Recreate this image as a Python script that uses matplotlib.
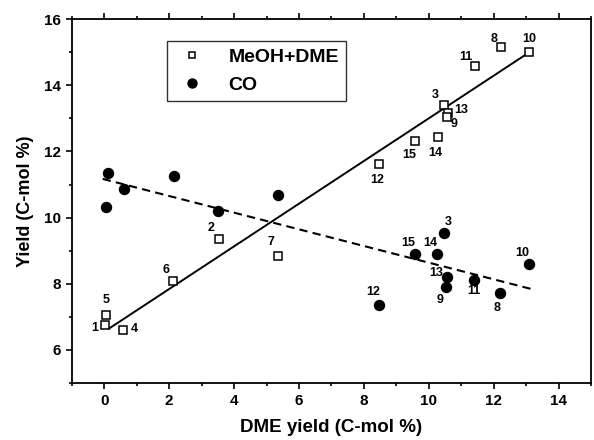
import matplotlib
matplotlib.use('Agg')
import matplotlib.pyplot as plt
from matplotlib.ticker import MultipleLocator

plt.rcParams['font.family'] = ['Liberation Sans', 'DejaVu Sans']
plt.rcParams['font.weight'] = 'bold'

# MeOH+DME yield vs DME yield (open squares)
meoh_ids = ['1', '5', '4', '6', '2', '7', '12', '15', '14', '3', '13', '9', '11', '8', '10']
meoh_x = [0.03, 0.05, 0.57, 2.13, 3.54, 5.35, 8.47, 9.56, 10.28, 10.48, 10.58, 10.55, 11.43, 12.22, 13.10]
meoh_y = [6.76, 7.07, 6.60, 8.09, 9.35, 8.83, 11.63, 12.33, 12.45, 13.40, 13.15, 13.05, 14.58, 15.17, 15.02]
meoh_off = [(-11, -3), (0, 15), (11, 1), (-7, 11), (-8, 11), (-7, 14), (-2, -16), (-5, -14),
            (-3, -16), (-9, 10), (14, 3), (7, -7), (-9, 9), (-7, 8), (0, 13)]

# CO yield vs DME yield (filled circles)
co_x = [0.10, 0.06, 0.60, 2.15, 3.51, 5.35, 10.48, 9.56, 10.26, 13.09, 10.56, 11.39, 10.54, 12.18, 8.45]
co_y = [11.35, 10.33, 10.88, 11.25, 10.20, 10.67, 9.52, 8.90, 8.90, 8.60, 8.19, 8.10, 7.89, 7.72, 7.35]
co_ids = ['', '', '', '', '', '', '3', '15', '14', '10', '13', '11', '9', '8', '12']
co_off = [(0, 0)] * 6 + [(4, 11), (-6, 11), (-7, 11), (-7, 11), (-11, 4), (0, -11), (-6, -13), (-2, -15), (-5, 13)]

# trend lines
fit_x = [0.15, 13.10]
fit_y = [6.65, 15.00]
co_fit_x = [-0.05, 13.17]
co_fit_y = [11.17, 7.84]

fig = plt.figure(figsize=(5.94, 4.40), dpi=100)
ax = fig.add_axes([0.121, 0.1295, 0.874, 0.827])

ax.plot(fit_x, fit_y, color='black', linewidth=1.4)
ax.plot(co_fit_x, co_fit_y, color='black', linewidth=1.5, linestyle=(0, (4, 2.5)))

ax.plot(meoh_x, meoh_y, linestyle='none', marker='s', markersize=5.4,
        markerfacecolor='white', markeredgecolor='black', markeredgewidth=1.1, label='MeOH+DME')
ax.plot(co_x, co_y, linestyle='none', marker='o', markersize=7.2,
        color='black', label='CO')

for i in range(len(meoh_x)):
    ax.annotate(meoh_ids[i], (meoh_x[i], meoh_y[i]), xytext=meoh_off[i], textcoords='offset pixels',
                ha='center', va='center', fontsize=9, fontweight='bold')
for i in range(len(co_x)):
    if co_ids[i]:
        ax.annotate(co_ids[i], (co_x[i], co_y[i]), xytext=co_off[i], textcoords='offset pixels',
                    ha='center', va='center', fontsize=9, fontweight='bold')

ax.set_xlim(-1, 15)
ax.set_ylim(5, 16)
ax.xaxis.set_major_locator(MultipleLocator(2))
ax.xaxis.set_minor_locator(MultipleLocator(1))
ax.yaxis.set_major_locator(MultipleLocator(2))
ax.yaxis.set_minor_locator(MultipleLocator(1))
ax.tick_params(which='both', direction='out', top=True, right=False, width=1.2)
ax.tick_params(which='major', length=4.5, labelsize=11)
ax.tick_params(which='minor', length=2.5)
ax.tick_params(axis='x', which='both', labeltop=False)
for lab in ax.get_xticklabels() + ax.get_yticklabels():
    lab.set_fontweight('bold')
for sp in ax.spines.values():
    sp.set_linewidth(1.3)

ax.set_xlabel('DME yield (C-mol %)', fontsize=13.5, fontweight='bold', labelpad=8)
ax.set_ylabel('Yield (C-mol %)', fontsize=13, fontweight='bold', labelpad=7)

leg = ax.legend(loc='upper left', bbox_to_anchor=(0.184, 0.939), fontsize=14, frameon=True,
                fancybox=False, edgecolor='black', borderpad=0.35, handletextpad=1.0,
                labelspacing=0.55, handlelength=1.8, borderaxespad=0, markerscale=0.9)
leg.get_frame().set_linewidth(1.0)
for t in leg.get_texts():
    t.set_fontweight('bold')

fig.savefig('out.png', dpi=100)
